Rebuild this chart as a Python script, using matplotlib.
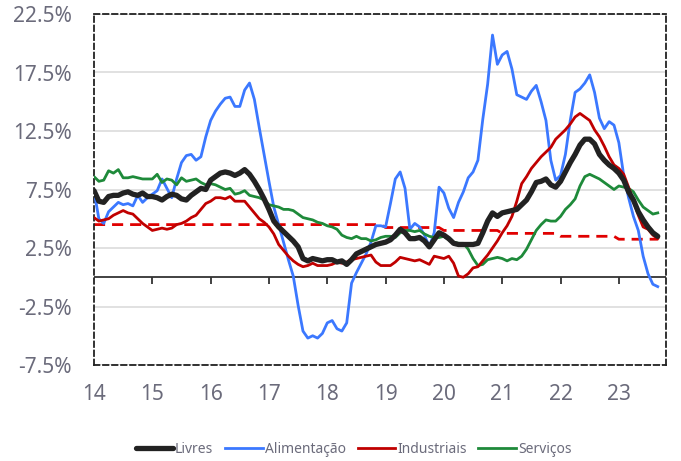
import numpy as np
import matplotlib
matplotlib.use("Agg")
import matplotlib.pyplot as plt

# ---- data (monthly, Jan 2014 .. Sep 2023) ----
start_year = 2014
livres = [
    7.4, 6.5, 6.4, 6.9, 7.0, 7.0, 7.2, 7.3, 7.1, 7.0, 7.2, 6.9,
    6.9, 6.8, 6.6, 6.9, 7.1, 7.0, 6.7, 6.6, 7.0, 7.3, 7.6, 7.5,
    8.3, 8.6, 8.9, 9.0, 8.9, 8.7, 8.9, 9.2, 8.8, 8.2, 7.5, 6.7,
    5.8, 4.8, 4.3, 3.9, 3.5, 3.1, 2.6, 1.6, 1.4, 1.6, 1.5, 1.4,
    1.5, 1.5, 1.3, 1.4, 1.1, 1.5, 2.0, 2.2, 2.4, 2.6, 2.8, 2.9,
    3.0, 3.2, 3.6, 4.1, 3.8, 3.3, 3.3, 3.4, 3.1, 2.6, 3.2, 3.8,
    3.6, 3.3, 2.9, 2.8, 2.8, 2.8, 2.8, 2.9, 3.8, 4.8, 5.5, 5.2,
    5.5, 5.6, 5.7, 5.8, 6.2, 6.6, 7.3, 8.1, 8.2, 8.4, 7.9, 7.7,
    8.2, 9.0, 9.8, 10.5, 11.3, 11.8, 11.8, 11.4, 10.5, 10.0, 9.6, 9.3,
    8.9, 8.3, 7.3, 6.6, 5.6, 4.9, 4.3, 3.8, 3.5,
]
alimentacao = [
    7.4, 5.0, 4.6, 5.6, 6.0, 6.4, 6.2, 6.3, 6.1, 7.0, 6.4, 6.8,
    7.1, 7.4, 8.4, 7.6, 6.8, 8.4, 9.8, 10.4, 10.5, 10.0, 10.3, 12.0,
    13.4, 14.2, 14.8, 15.3, 15.4, 14.6, 14.6, 16.0, 16.6, 15.2, 12.8, 10.5,
    8.2, 6.0, 4.5, 3.0, 1.5, 0.1, -2.4, -4.6, -5.2, -5.0, -5.2, -4.8,
    -3.9, -3.7, -4.4, -4.6, -3.9, -0.5, 0.4, 1.2, 2.0, 3.0, 4.4, 4.4,
    4.3, 6.3, 8.4, 9.0, 7.6, 4.1, 4.6, 4.3, 3.6, 2.6, 3.8, 7.7,
    7.2, 5.9, 5.1, 6.4, 7.3, 8.5, 9.0, 10.0, 13.5, 16.5, 20.7, 18.2,
    19.0, 19.3, 17.8, 15.6, 15.4, 15.2, 15.9, 16.4, 15.0, 13.4, 10.0, 8.3,
    8.7, 10.5, 13.4, 15.8, 16.1, 16.6, 17.3, 15.8, 13.6, 12.7, 13.3, 13.0,
    11.5, 8.7, 6.8, 5.2, 4.0, 1.8, 0.3, -0.6, -0.8,
]
industriais = [
    5.1, 4.8, 4.9, 5.0, 5.3, 5.5, 5.7, 5.5, 5.4, 5.0, 4.6, 4.3,
    4.0, 4.1, 4.2, 4.1, 4.2, 4.5, 4.6, 4.8, 5.1, 5.3, 5.8, 6.3,
    6.5, 6.8, 6.8, 6.7, 6.9, 6.5, 6.5, 6.5, 6.0, 5.5, 5.0, 4.7,
    4.3, 3.7, 2.8, 2.3, 1.8, 1.4, 1.1, 0.9, 1.0, 1.2, 1.0, 1.0,
    1.0, 1.1, 1.3, 1.2, 1.3, 1.5, 1.6, 1.7, 1.8, 1.9, 1.3, 1.0,
    1.0, 1.0, 1.3, 1.7, 1.6, 1.5, 1.4, 1.5, 1.3, 1.1, 1.8, 1.7,
    1.6, 1.8, 1.2, 0.1, 0.0, 0.3, 0.8, 0.9, 1.4, 1.9, 2.5, 3.1,
    3.8, 4.4, 5.2, 6.5, 8.0, 8.6, 9.3, 9.8, 10.3, 10.7, 11.1, 11.8,
    12.2, 12.6, 13.1, 13.7, 14.0, 13.7, 13.4, 12.6, 12.0, 11.2, 10.3, 9.6,
    9.3, 8.8, 7.7, 6.5, 5.3, 4.3, 4.1, 3.6, 3.3,
]
servicos = [
    8.6, 8.2, 8.3, 9.1, 8.9, 9.2, 8.5, 8.5, 8.6, 8.5, 8.4, 8.4,
    8.4, 8.8, 8.1, 8.4, 8.3, 7.9, 8.5, 8.2, 8.3, 8.4, 8.1, 7.9,
    8.0, 7.9, 7.7, 7.5, 7.6, 7.1, 7.2, 7.4, 7.0, 6.9, 6.8, 6.6,
    6.2, 6.1, 6.0, 5.8, 5.8, 5.7, 5.4, 5.1, 5.0, 4.9, 4.7, 4.6,
    4.4, 4.3, 4.1, 3.6, 3.4, 3.3, 3.5, 3.3, 3.3, 3.1, 3.2, 3.4,
    3.5, 3.5, 3.4, 3.8, 4.0, 4.0, 3.9, 4.0, 3.7, 3.5, 3.4, 3.4,
    3.5, 3.2, 3.0, 2.9, 2.9, 2.4, 1.6, 1.0, 1.1, 1.5, 1.6, 1.7,
    1.6, 1.4, 1.6, 1.5, 1.8, 2.4, 3.2, 4.0, 4.5, 4.9, 4.8, 4.8,
    5.2, 5.8, 6.2, 6.7, 7.8, 8.6, 8.8, 8.6, 8.4, 8.1, 7.8, 7.5,
    7.8, 7.7, 7.6, 7.3, 6.6, 6.0, 5.7, 5.4, 5.5,
]
# inflation target per year (2014..2023)
target_years = [2014, 2015, 2016, 2017, 2018, 2019, 2020, 2021, 2022, 2023]
target_values = [4.5, 4.5, 4.5, 4.5, 4.5, 4.25, 4.0, 3.75, 3.5, 3.25]

year_ticks = list(range(2014, 2024))
year_labels = [str(y)[2:] for y in year_ticks]
y_ticks = [-7.5, -2.5, 2.5, 7.5, 12.5, 17.5, 22.5]
y_labels = [f"{v:.1f}%" for v in y_ticks]

series_names = ["Livres", "Alimentação", "Industriais", "Serviços"]

# ---- build ----
n = len(livres)
x = start_year + np.arange(n) / 12.0
month_year = (start_year + np.arange(n) // 12)
target_map = dict(zip(target_years, target_values))
target = np.array([target_map[y] for y in month_year])

plt.rcParams['font.family'] = ['Noto Sans', 'DejaVu Sans']
txt_color = '#6b6b7b'

fig = plt.figure(figsize=(6.81, 4.61), dpi=100)
ax = fig.add_axes([94/681, 1-365/461, (666-94)/681, (365-14)/461])

ax.set_xlim(2014, 2014 + 117.7/12)
ax.set_ylim(-7.5, 22.5)

for yv in y_ticks:
    ax.axhline(yv, color='#dcdcdc', lw=1.2, zorder=0)
ax.axhline(0, color='#333333', lw=1.3, zorder=1)
ax.vlines(year_ticks[1:], -0.6, 0, color='#333333', lw=1.3, zorder=1)

ax.plot(x, target, color='#e00000', lw=2.0, dashes=(4, 2.5), zorder=2)
l1, = ax.plot(x, livres, color='#222222', lw=3.8, solid_capstyle='round', zorder=5)
l2, = ax.plot(x, alimentacao, color='#3b78ff', lw=2.0, zorder=3)
l3, = ax.plot(x, industriais, color='#c00000', lw=2.0, zorder=4)
l4, = ax.plot(x, servicos, color='#1e8a3a', lw=2.0, zorder=3)

for s in ax.spines.values():
    s.set_linestyle((0, (3, 2)))
    s.set_linewidth(1.3)
    s.set_color('#222222')

ax.set_xticks(year_ticks)
ax.set_xticklabels(year_labels)
ax.set_yticks(y_ticks)
ax.set_yticklabels(y_labels)
ax.tick_params(axis='both', length=0, labelsize=15, colors=txt_color)
ax.tick_params(axis='y', pad=16)
ax.tick_params(axis='x', pad=14)

leg = fig.legend([l1, l2, l3, l4], series_names, loc='center',
                 bbox_to_anchor=(353.5/681, 1-449/461), ncol=4, frameon=False,
                 fontsize=10, handlelength=2.7, handletextpad=0.15,
                 columnspacing=0.85, labelcolor=txt_color)

fig.savefig('out.png', dpi=100)
